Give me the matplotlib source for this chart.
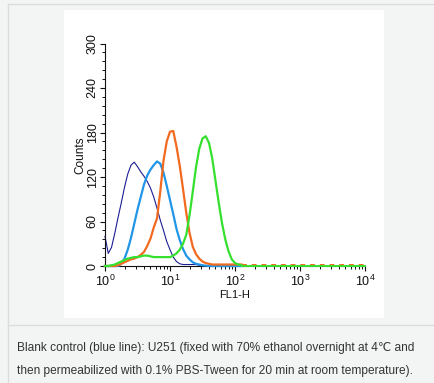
import numpy as np
import matplotlib
matplotlib.use("Agg")
import matplotlib.pyplot as plt
from matplotlib.patches import Rectangle
from matplotlib.lines import Line2D
from matplotlib.ticker import FixedLocator, LogLocator, NullFormatter

plt.rcParams['font.family'] = ['Liberation Sans', 'DejaVu Sans']
plt.rcParams['mathtext.default'] = 'regular'

# ---- data: log10(FL1-H) channel grid (0.05 decade steps) and counts ----
log_fl1 = np.round(np.arange(0.0, 2.101, 0.05), 2)

blank_control = [40, 17, 25, 44, 65, 85, 106, 124, 136, 140,
                 134, 127, 121, 114, 105, 93, 78, 62, 48, 33,
                 22, 12, 6, 3, 2, 2, 2, 2, 2, 1,
                 0, 0, 0, 0, 0, 0, 0, 0, 0, 0,
                 0, 0, 0]
sample_light_blue = [0, 0, 0, 0, 0, 3, 10, 22, 38, 57,
                     76, 93, 110, 122, 130, 136, 141, 138, 126, 108,
                     89, 70, 50, 35, 23, 14, 9, 5, 3, 2,
                     1, 0.5, 0, 0, 0, 0, 0, 0, 0, 0,
                     0, 0, 0]
sample_orange = [0, 0, 0, 0, 1, 3, 5, 7, 9, 10,
                 12, 15, 19, 27, 37, 52, 64, 100, 142, 168,
                 181, 182, 161, 135, 104, 72, 45, 26, 16, 10,
                 6, 4, 3, 2, 2, 2, 2, 2, 2, 2,
                 2, 2, 2]
sample_green = [0, 0, 1, 2, 4, 6, 8, 10, 11, 12,
                12, 13, 14, 14, 13, 12, 12, 12, 12, 12,
                12, 14, 17, 22, 30, 42, 68, 100, 133, 158,
                172, 175, 166, 145, 115, 85, 58, 36, 20, 9,
                4, 2, 1]
# orange sparse tail (dashed) out to 10^4
orange_tail_log = [2.10, 4.0]
orange_tail_counts = [2, 2]

x_ticks = [1, 10, 100, 1000, 10000]
x_tick_labels = ['$10^{0}$', '$10^{1}$', '$10^{2}$', '$10^{3}$', '$10^{4}$']
y_ticks = [0, 60, 120, 180, 240, 300]

W, H = 434, 383
fig = plt.figure(figsize=(W / 100, H / 100), dpi=100)
fig.patch.set_facecolor('#f3f4f4')

def fx(x):
    return x / W

def fy(y):
    return 1 - y / H

# page decorations
fig.add_artist(Rectangle((fx(64), fy(318)), fx(320), 308 / H, transform=fig.transFigure,
                         facecolor='white', edgecolor='none', zorder=0))
fig.add_artist(Line2D([fx(8), 1], [fy(4), fy(4)], transform=fig.transFigure,
                      color='#dcdcdc', lw=1))
fig.add_artist(Line2D([fx(8), fx(8)], [fy(4), 0], transform=fig.transFigure,
                      color='#dcdcdc', lw=1))
fig.add_artist(Line2D([fx(8), 1], [fy(325), fy(325)], transform=fig.transFigure,
                      color='#dcdcdc', lw=1))

ax = fig.add_axes([fx(105), fy(266), fx(260), 222.5 / H])
ax.patch.set_alpha(0)

x_vals = 10 ** log_fl1
ax.plot(x_vals, blank_control, color='#1d1d94', lw=0.8, zorder=2, clip_on=False)
ax.plot(x_vals, sample_light_blue, color='#2196e8', lw=1.6, zorder=3, clip_on=False)
ax.plot(x_vals, sample_orange, color='#f26a1f', lw=1.6, zorder=4, clip_on=False)
ax.plot(10 ** np.array(orange_tail_log), orange_tail_counts, color='#f26a1f', lw=1.4,
        ls=(0, (2.5, 2.5)), zorder=4)
ax.plot(x_vals, sample_green, color='#35e02e', lw=1.6, zorder=5, clip_on=False)
ax.plot([10 ** 2.1, 1e4], [0, 0], color='#35e02e', lw=1.4, zorder=5, clip_on=False)

ax.set_xscale('log')
ax.set_xlim(1, 1e4)
ax.set_ylim(0, 300)
for s in ['top', 'right']:
    ax.spines[s].set_visible(False)
for s in ['left', 'bottom']:
    ax.spines[s].set_linewidth(0.8)
    ax.spines[s].set_color('#111111')

ax.xaxis.set_major_locator(FixedLocator(x_ticks))
ax.set_xticklabels(x_tick_labels)
ax.xaxis.set_minor_locator(LogLocator(base=10, subs=np.arange(2, 10)))
ax.xaxis.set_minor_formatter(NullFormatter())
ax.yaxis.set_major_locator(FixedLocator(y_ticks))
ax.yaxis.set_minor_locator(FixedLocator(np.arange(0, 301, 12)))

ax.tick_params(axis='both', which='major', direction='out', length=3.5, width=0.8,
               labelsize=9, colors='#111111', pad=2)
ax.tick_params(axis='y', which='major', pad=1)
ax.tick_params(axis='both', which='minor', direction='out', length=2, width=0.7,
               colors='#111111')
ax.tick_params(axis='y', which='major', labelrotation=90)
for lab in ax.get_yticklabels():
    lab.set_va('center')

ax.set_xlabel('FL1-H', fontsize=8, labelpad=1, color='#111111')
ax.set_ylabel('Counts', fontsize=8.5, labelpad=0, color='#111111')

cap_kw = dict(fontsize=8.6, color='#333333', va='center', ha='left',
              family=['Liberation Sans', 'DejaVu Sans'])
fig.text(fx(17), fy(348), 'Blank control (blue line): U251 (fixed with 70% ethanol overnight at 4℃ and', **cap_kw)
fig.text(fx(17), fy(371), 'then permeabilized with 0.1% PBS-Tween for 20 min at room temperature).', **cap_kw)

fig.savefig('out.png', dpi=100, facecolor=fig.get_facecolor())
